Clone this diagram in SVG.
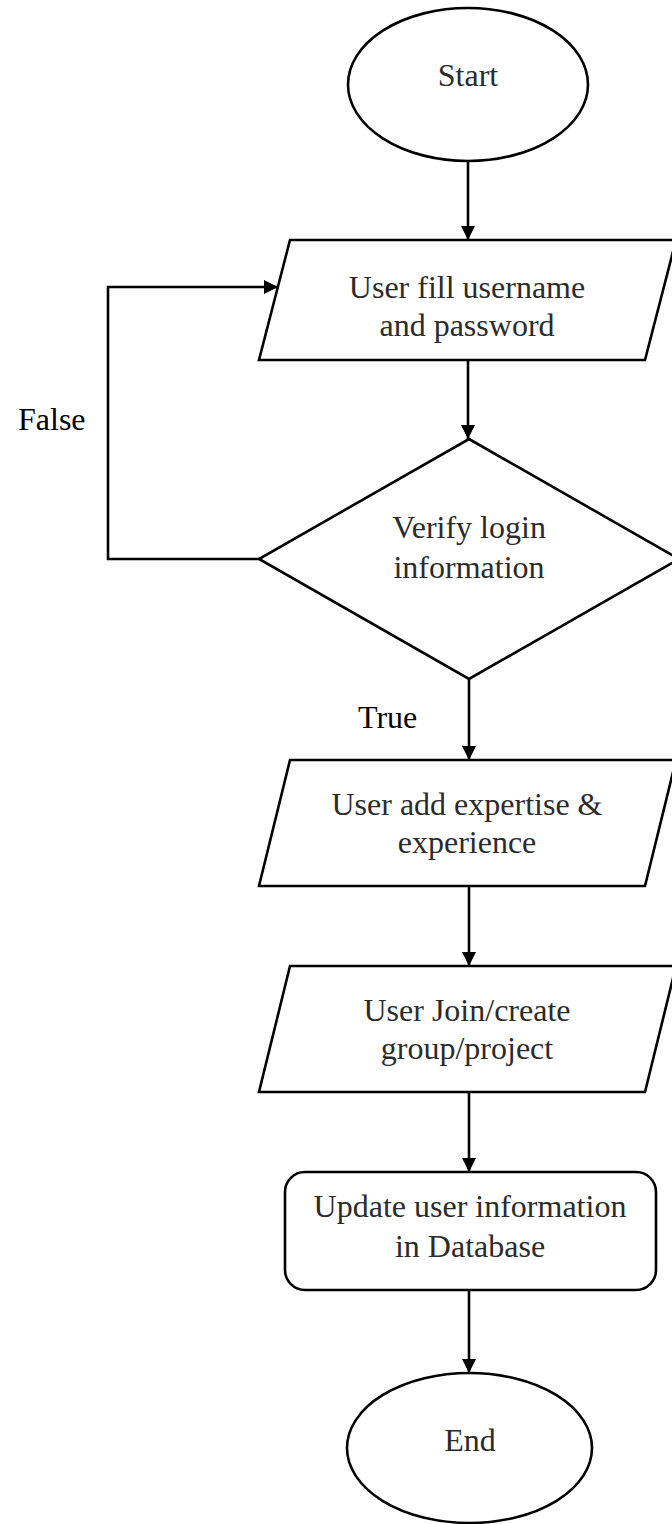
<svg xmlns="http://www.w3.org/2000/svg" width="672" height="1524" viewBox="0 0 672 1524">
<style>
.s{fill:#fff;stroke:#000;stroke-width:2.6}
.c{fill:none;stroke:#000;stroke-width:2.6}
.t{font-family:"Liberation Serif","Times New Roman",serif;font-size:32px;fill:#2b2b2b;text-anchor:middle}
.l{font-family:"Liberation Serif","Times New Roman",serif;font-size:32px;fill:#000}
</style>
<defs>
<marker id="ah" markerWidth="14" markerHeight="14" refX="14" refY="7" orient="auto" markerUnits="userSpaceOnUse">
<path d="M0,0 L14,7 L0,14 Z" fill="#000"/>
</marker>
</defs>
<rect width="672" height="1524" fill="#fff"/>
<g id="connectors">
<line class="c" x1="468" y1="161" x2="468" y2="240" marker-end="url(#ah)"/>
<line class="c" x1="468" y1="360" x2="468" y2="439" marker-end="url(#ah)"/>
<polyline class="c" points="259,559 108,559 108,287 278,287" marker-end="url(#ah)"/>
<line class="c" x1="469" y1="679" x2="469" y2="760" marker-end="url(#ah)"/>
<line class="c" x1="469" y1="886" x2="469" y2="966" marker-end="url(#ah)"/>
<line class="c" x1="469" y1="1092" x2="469" y2="1172" marker-end="url(#ah)"/>
<line class="c" x1="469" y1="1290" x2="469" y2="1373" marker-end="url(#ah)"/>
<text class="l" x="18" y="430">False</text>
<text class="l" x="358" y="728">True</text>
</g>
<g id="start">
<ellipse class="s" cx="468" cy="84.5" rx="120" ry="76.5"/>
<text class="t" x="468" y="86">Start</text>
</g>
<g id="input-login">
<polygon class="s" points="290,240 676,240 645,360 259,360"/>
<text class="t" x="467" y="298">User fill username</text>
<text class="t" x="467" y="336">and password</text>
</g>
<g id="verify">
<polygon class="s" points="469,439 679,559 469,679 259,559"/>
<text class="t" x="469" y="538">Verify login</text>
<text class="t" x="469" y="578">information</text>
</g>
<g id="add-expertise">
<polygon class="s" points="290,760 676,760 645,886 259,886"/>
<text class="t" x="467" y="815">User add expertise &amp;</text>
<text class="t" x="467" y="853">experience</text>
</g>
<g id="join-group">
<polygon class="s" points="290,966 676,966 645,1092 259,1092"/>
<text class="t" x="467" y="1021">User Join/create</text>
<text class="t" x="467" y="1059">group/project</text>
</g>
<g id="update-db">
<rect class="s" x="285" y="1172" width="371" height="118" rx="20" ry="20"/>
<text class="t" x="470" y="1217">Update user information</text>
<text class="t" x="470" y="1257">in Database</text>
</g>
<g id="end">
<ellipse class="s" cx="469.5" cy="1448" rx="122.5" ry="75"/>
<text class="t" x="470" y="1451">End</text>
</g>
</svg>
